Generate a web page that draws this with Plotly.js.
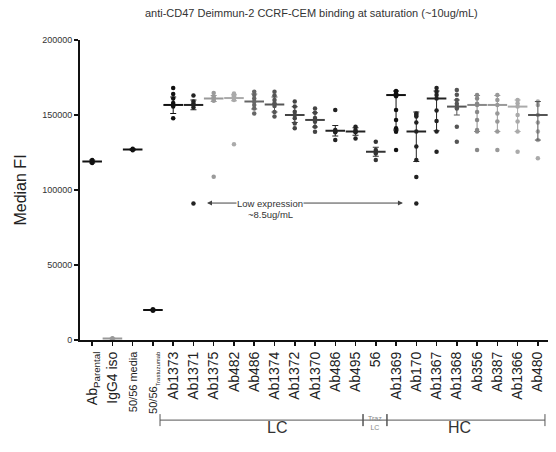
<!DOCTYPE html>
<html><head><meta charset="utf-8">
<script src="https://cdn.plot.ly/plotly-3.0.1.min.js"></script>
<style>html,body{margin:0;padding:0;background:#fff}</style>
</head><body><div id="chart" style="width:556px;height:452px"></div>
<script>
const categories = ["Ab<sub>Parental</sub>","IgG4 iso","50/56 media","50/56<sub>Trastuzumab</sub>",
 "Ab1373","Ab1371","Ab1375","Ab482","Ab486","Ab1374","Ab1372","Ab1370","Ab486","Ab495","56",
 "Ab1369","Ab170","Ab1367","Ab1368","Ab356","Ab387","Ab1366","Ab480"];
const pointValues = [
 [118000,119000,119500,120000,118500],
 [800,1200],
 [126500,127000,127500],
 [19500,20000,20500],
 [168000,164000,161000,158000,155600,157000,147800],
 [163000,159000,156700,155000,157500,91000],
 [164600,162000,160000,161500,159500,108900],
 [164400,162500,160000,163000,161000,130500],
 [165500,163300,161000,158900,156700,154400,151000],
 [165500,163000,160000,157800,156000,152000,149000],
 [159000,155600,152200,150000,147800,144400,141100],
 [154400,151500,148000,145500,142200,138900],
 [153300,140000,139000,138500,133300],
 [142200,140000,139000,138500,134400],
 [132200,126700,124400,125500,120000],
 [166000,165500,164500,163300,162500,153300,146700,141100,138900,126700],
 [151000,150000,149000,145000,139000,129000,120000,108700,91000],
 [168000,165500,163300,161000,153000,146000,139000,125500],
 [166700,163500,160000,157500,155600,154400,142200,132200],
 [163300,161000,157500,156700,152000,146700,140000,139000,126700],
 [163300,160000,156700,151000,145600,139000,126700],
 [160000,157800,155600,150000,145600,139000,125500],
 [159000,156700,150000,145000,139000,133300,121100]
];
const centerValues = [119000,1000,127000,20000,156700,156700,161000,161300,159000,157000,150000,146700,139500,139000,125500,163300,139000,161000,155600,156700,156700,155600,150000];
const lowValues  = [118000,800,126500,19500,151000,153500,159000,159500,154000,152000,145000,142000,136000,136500,122500,140000,119000,139500,150000,139000,139000,139000,133300];
const highValues = [120000,1200,127500,20500,162000,160000,163000,163500,164000,162000,155500,151500,143000,141500,128500,166000,152000,166000,160000,163000,163000,160000,159000];
const pointColors = ["#111","#999","#111","#111","#111","#222","#9a9a9a","#aaa","#666","#555","#444","#444","#222","#222","#333","#111","#222","#222","#555","#888","#999","#aaa","#aaa"];
const centerColors = ["#111","#999","#111","#111","#111","#222","#999","#aaa","#666","#555","#444","#444","#222","#222","#333","#111","#222","#222","#555","#888","#999","#aaa","#555"];
const tickLabels = categories.map((c,i)=> i===2 ? '<span style="font-size:11px">'+c+'</span>'
  : (i===3 ? '<span style="font-size:11px">50/56</span><sub><span style="font-size:6px">Trastuzumab</span></sub>' : c));
const lowExprY = 91300;

const traces = [];
categories.forEach((c,i)=>{
  traces.push({type:'scatter',mode:'markers',x:pointValues[i].map(()=>i),y:pointValues[i],
    marker:{size:4.5,color:pointColors[i]},showlegend:false,hoverinfo:'y'});
  traces.push({type:'scatter',mode:'markers',x:[i],y:[centerValues[i]],
    marker:{symbol:'line-ew',size:14,color:centerColors[i],line:{width:2,color:centerColors[i]}},
    error_y:{type:'data',symmetric:false,array:[highValues[i]-centerValues[i]],arrayminus:[centerValues[i]-lowValues[i]],
      color:centerColors[i],thickness:1,width:3},
    showlegend:false,hoverinfo:'y'});
});

const font = 'Liberation Sans, Arial, sans-serif';
const bY = -0.267, tH = 0.02;
const br = (x0,x1)=>[
  {type:'line',xref:'x',yref:'paper',x0:x0,x1:x1,y0:bY,y1:bY,line:{color:'#555',width:1}},
  {type:'line',xref:'x',yref:'paper',x0:x0,x1:x0,y0:bY-tH,y1:bY+tH,line:{color:'#555',width:1}},
  {type:'line',xref:'x',yref:'paper',x0:x1,x1:x1,y0:bY-tH,y1:bY+tH,line:{color:'#555',width:1}}
];
const shapes = [].concat(br(3.35,13.37),br(13.37,14.55),br(14.55,22.35));

const layout = {
  width:556,height:452,
  margin:{l:80,r:8,t:40,b:112},
  paper_bgcolor:'#fff',plot_bgcolor:'#fff',
  font:{family:font,color:'#222'},
  title:{text:'anti-CD47 Deimmun-2 CCRF-CEM binding at saturation (~10ug/mL)',x:0.56,xanchor:'center',y:0.97,yanchor:'middle',
    font:{size:11,color:'#333',family:font}},
  xaxis:{range:[-0.6,22.5],tickmode:'array',tickvals:categories.map((c,i)=>i),ticktext:tickLabels,
    tickangle:-90,tickfont:{size:14,color:'#222',family:font},showline:true,linecolor:'#111',linewidth:2,
    ticks:'outside',ticklen:4,tickcolor:'#111',tickwidth:1.5,showgrid:false,zeroline:false},
  yaxis:{range:[0,200000],tickvals:[0,50000,100000,150000,200000],ticktext:['0','50000','100000','150000','200000'],
    tickfont:{size:9,color:'#333',family:font},showline:true,linecolor:'#111',linewidth:2,
    ticks:'outside',ticklen:4,tickcolor:'#111',tickwidth:1.5,showgrid:false,zeroline:false,
    title:{text:'Median FI',font:{size:16,color:'#222',family:font},standoff:12}},
  shapes:shapes,
  annotations:[
    {x:5.67,y:lowExprY,ax:8.8,ay:lowExprY,xref:'x',yref:'y',axref:'x',ayref:'y',text:'',showarrow:true,arrowhead:2,arrowsize:1,arrowwidth:1,arrowcolor:'#444'},
    {x:15.34,y:lowExprY,ax:8.8,ay:lowExprY,xref:'x',yref:'y',axref:'x',ayref:'y',text:'',showarrow:true,arrowhead:2,arrowsize:1,arrowwidth:1,arrowcolor:'#444'},
    {x:8.8,y:lowExprY,xref:'x',yref:'y',text:'Low expression',showarrow:false,bgcolor:'#fff',font:{size:9.5,color:'#333',family:font},borderpad:0},
    {x:8.8,y:lowExprY,xref:'x',yref:'y',yshift:-11,text:'~8.5ug/mL',showarrow:false,font:{size:9.5,color:'#333',family:font}},
    {x:9.13,y:-0.327,xref:'x',yref:'paper',text:'LC',showarrow:false,font:{size:16,color:'#333',family:font}},
    {x:18.15,y:-0.327,xref:'x',yref:'paper',text:'HC',showarrow:false,font:{size:16,color:'#333',family:font}},
    {x:13.96,y:-0.31,xref:'x',yref:'paper',text:'Traz<br>LC',showarrow:false,font:{size:7,color:'#888',family:font}}
  ]
};
Plotly.newPlot('chart',traces,layout,{displayModeBar:false,staticPlot:true});
</script></body></html>
